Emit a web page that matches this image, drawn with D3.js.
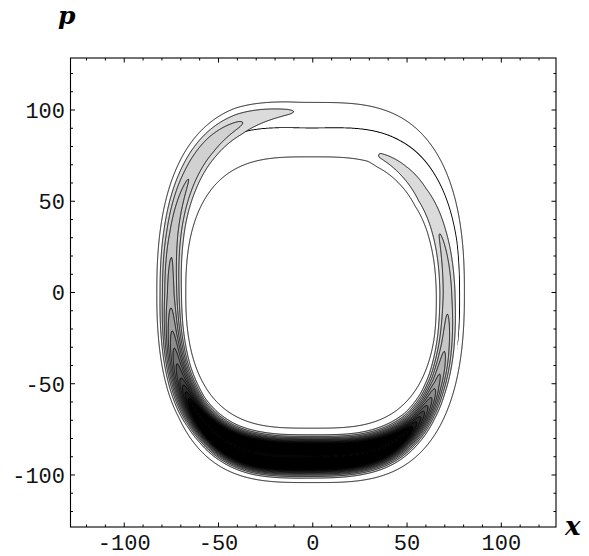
<!DOCTYPE html>
<html><head><meta charset="utf-8">
<script src="https://cdn.jsdelivr.net/npm/d3@7"></script>
<style>body{margin:0;background:#fff}</style>
</head><body>
<svg id="chart" width="589" height="556"></svg>
<script>
// ---------- data ----------
const xTicks = [-100, -50, 0, 50, 100];
const yTicks = [-100, -50, 0, 50, 100];
const minorTicks = [-120,-110,-90,-80,-70,-60,-40,-30,-20,-10,10,20,30,40,60,70,80,90,110,120];
const xDomain = [-128.5, 129];
const yDomain = [-128.5, 128.5];

// nested orbit family: inner (t=0) and outer (t=1) rounded-square curves
const innerAxes = [66.5, 74];     // half-widths in x and p
const outerAxes = [81.3, 104.5];
const shapeExp = [3.2, 2.4];      // exponents for |x|, |p|
const orbitCenterX = -0.7;

// spiral arm of the distribution, sampled along clockwise angle psi (deg from tail tip)
const tailAngle = 69;
const armPsi   = [-30, -10, 0, 15, 30, 50, 69, 85, 100, 110, 122, 135, 148, 160, 172, 185, 198, 206, 213, 222, 239, 249, 265, 287, 305, 320, 336, 350];
const armAmp   = [0.3, 1.4, 2.05, 2.3, 2.6, 3.0, 3.6, 4.8, 6.5, 9.0, 13, 19, 27, 33, 33, 27, 20, 16, 13, 10, 7.0, 5.5, 4.6, 4.0, 3.7, 3.1, 2.1, 0.8];
const armPos   = [0.2, 0.19, 0.18, 0.16, 0.16, 0.26, 0.38, 0.42, 0.45, 0.47, 0.49, 0.5, 0.51, 0.52, 0.52, 0.52, 0.52, 0.53, 0.54, 0.55, 0.55, 0.55, 0.57, 0.62, 0.68, 0.74, 0.82, 0.88];
const armWidth = [0.12, 0.15, 0.18, 0.2, 0.22, 0.24, 0.25, 0.23, 0.2, 0.18, 0.17, 0.17, 0.165, 0.165, 0.165, 0.165, 0.17, 0.18, 0.2, 0.22, 0.25, 0.27, 0.27, 0.25, 0.22, 0.2, 0.15, 0.1];

// low plateau ring and the thin separating line across the top
const ringLevel = 1.4;
const splitPhi = [-20, 13, 40, 62, 90, 114, 135];
const splitPos = [0.84, 0.8, 0.68, 0.6, 0.53, 0.6, 0.64];
const splitWidth = [0.02, 0.018, 0.013, 0.011, 0.0095, 0.0095, 0.0095];
const splitDepthPhi = [-25, -5, 125, 135];
const splitDepth = [0, 1, 1, 0];

const levels = d3.range(1, 41);

// ---------- layout ----------
const plotL = 70.5, plotR = 556, plotT = 58, plotB = 527;
const svg = d3.select("#chart");
const xScale = d3.scaleLinear(xDomain, [plotL, plotR]);
const yScale = d3.scaleLinear(yDomain, [plotB, plotT]);

const ampS = d3.scaleLinear(armPsi, armAmp).clamp(true);
const posS = d3.scaleLinear(armPsi, armPos).clamp(true);
const widS = d3.scaleLinear(armPsi, armWidth).clamp(true);
const splitS = d3.scaleLinear(splitPhi, splitPos).clamp(true);
const splitW = d3.scaleLinear(splitPhi, splitWidth).clamp(true);
const depthS = d3.scaleLinear(splitDepthPhi, splitDepth).clamp(true);

const [aIn, bIn] = innerAxes, [aOut, bOut] = outerAxes, [mE, kE] = shapeExp;
const aT = t => aIn + (aOut - aIn) * t;
const bT = t => bIn + (bOut - bIn) * t;
const sig = z => 1 / (1 + Math.exp(-z));

function fieldPair(x, p) {
  const xr = Math.abs(x - orbitCenterX), pr = Math.abs(p);
  const f = t => Math.pow(xr / aT(t), mE) + Math.pow(pr / bT(t), kE) - 1;
  let lo = -0.6, hi = 1.8;
  if (f(lo) <= 0 || f(hi) >= 0) return [0, 0];
  for (let i = 0; i < 16; i++) {
    const mid = (lo + hi) / 2;
    if (f(mid) > 0) lo = mid; else hi = mid;
  }
  const t = (lo + hi) / 2;
  const U = Math.pow(xr / aT(t), mE / 2), V = Math.pow(pr / bT(t), kE / 2);
  const phi = Math.atan2(p < 0 ? -V : V, (x - orbitCenterX) < 0 ? -U : U) * 180 / Math.PI;
  const psi0 = (((tailAngle - phi) % 360) + 360) % 360;
  let main = 0;
  for (const k of [-1, 0, 1]) {
    const ps = psi0 + 360 * k;
    if (ps < armPsi[0] || ps > armPsi[armPsi.length - 1]) continue;
    const A = ampS(ps), tc = posS(ps), w = widS(ps);
    const v = A * Math.exp(-(t - tc) * (t - tc) / (2 * w * w));
    if (v > main) main = v;
  }
  const eps = 0.012;
  const base = ringLevel * sig(t / eps) * sig((1 - t) / eps);
  const d = (t - splitS(phi)) / splitW(phi);
  const split = depthS(phi) * Math.exp(-d * d);
  return [Math.max(main, base), split];
}

// ---------- grid ----------
const res = 2;
const nx = Math.round((plotR - plotL) * res), ny = Math.round((plotB - plotT) * res);
const gx = d3.scaleLinear([0, nx], [plotL, plotR]);
const gy = d3.scaleLinear([0, ny], [plotT, plotB]);
const values = new Float64Array(nx * ny);
const splitVals = new Float64Array(nx * ny);
for (let j = 0; j < ny; j++) {
  const p = yScale.invert(gy(j + 0.5));
  for (let i = 0; i < nx; i++) {
    const [v, s] = fieldPair(xScale.invert(gx(i + 0.5)), p);
    values[j * nx + i] = v;
    splitVals[j * nx + i] = s;
  }
}
const contours = d3.contours().size([nx, ny]).thresholds(levels)(values);
const splitContour = d3.contours().size([nx, ny]).thresholds([0.5])(splitVals);
const proj = d3.geoTransform({ point(x, y) { this.stream.point(gx(x), gy(y)); } });
const path = d3.geoPath(proj);

const grayS = d3.scaleLinear([1, 2, 4, 7, 10, 13], [1, 0.86, 0.78, 0.55, 0.25, 0.02]).clamp(true);
const grayOf = v => { const c = Math.round(grayS(v) * 255); return `rgb(${c},${c},${c})`; };

svg.append("clipPath").attr("id", "clip").append("rect")
  .attr("x", plotL).attr("y", plotT).attr("width", plotR - plotL).attr("height", plotB - plotT);
const g = svg.append("g").attr("clip-path", "url(#clip)");
g.selectAll("path.fill1").data(contours.filter(d => d.value < 2)).join("path").attr("class", "fill1")
  .attr("d", path).attr("fill", d => grayOf(d.value));
g.selectAll("path.split").data(splitContour).join("path").attr("class", "split")
  .attr("d", path).attr("fill", "#000");
g.selectAll("path.fill").data(contours.filter(d => d.value >= 2)).join("path").attr("class", "fill")
  .attr("d", path).attr("fill", d => grayOf(d.value));
g.selectAll("path.line").data(contours).join("path").attr("class", "line")
  .attr("d", path).attr("fill", "none").attr("stroke", "#000").attr("stroke-width", 0.95);

// ---------- frame & ticks ----------
svg.append("rect").attr("x", plotL).attr("y", plotT).attr("width", plotR - plotL).attr("height", plotB - plotT)
  .attr("fill", "none").attr("stroke", "#000").attr("stroke-width", 1.1);
const tk = svg.append("g").attr("stroke", "#000").attr("stroke-width", 1);
const majorLen = 4.5, minorLen = 2.5;
[[xTicks, majorLen], [minorTicks, minorLen]].forEach(([arr, len]) => {
  arr.forEach(v => {
    const X = xScale(v), Y = yScale(v);
    tk.append("line").attr("x1", X).attr("x2", X).attr("y1", plotB).attr("y2", plotB - len);
    tk.append("line").attr("x1", X).attr("x2", X).attr("y1", plotT).attr("y2", plotT + len);
    tk.append("line").attr("y1", Y).attr("y2", Y).attr("x1", plotL).attr("x2", plotL + len);
    tk.append("line").attr("y1", Y).attr("y2", Y).attr("x1", plotR).attr("x2", plotR - len);
  });
});
const font = "'Liberation Mono', 'DejaVu Sans Mono', monospace";
svg.append("g").selectAll("text").data(xTicks).join("text")
  .attr("x", d => xScale(d)).attr("y", 550).attr("text-anchor", "middle")
  .attr("font-family", font).attr("font-size", 22).attr("fill", "#111").text(d => d);
svg.append("g").selectAll("text").data(yTicks).join("text")
  .attr("x", 65).attr("y", d => yScale(d)).attr("dy", "0.36em").attr("text-anchor", "end")
  .attr("font-family", font).attr("font-size", 22).attr("fill", "#111").text(d => d);
const labFont = "'DejaVu Serif', 'Liberation Serif', serif";
svg.append("text").attr("x", 58).attr("y", 24).attr("font-family", labFont).attr("font-weight", "bold")
  .attr("font-style", "italic").attr("font-size", 25).text("p");
svg.append("text").attr("x", 565).attr("y", 535).attr("font-family", labFont).attr("font-weight", "bold")
  .attr("font-style", "italic").attr("font-size", 26).text("x");
</script>
</body></html>
